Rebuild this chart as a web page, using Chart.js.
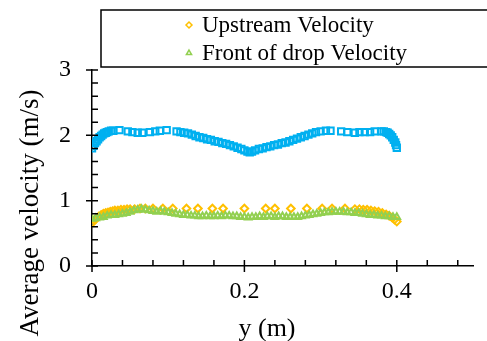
<!DOCTYPE html>
<html>
<head>
<meta charset="utf-8">
<script src="https://cdn.jsdelivr.net/npm/chart.js@4"></script>
<style>
  html, body { margin: 0; padding: 0; background: #fff; }
  #wrap { position: relative; width: 487px; height: 341px; }
</style>
</head>
<body>
<div id="wrap"><canvas id="velocityChart" width="487" height="341"></canvas></div>
<script>
// series (y in m, velocity in m/s)
const upperX = [0, 0.002, 0.004, 0.006, 0.008, 0.010, 0.012, 0.014, 0.016, 0.018, 0.020, 0.022, 0.025,
  0.028, 0.036, 0.047, 0.053, 0.060, 0.066, 0.076, 0.083, 0.089, 0.098,
  0.111, 0.116, 0.121, 0.126, 0.131, 0.136, 0.141, 0.146, 0.151, 0.156, 0.161, 0.166, 0.171, 0.176, 0.181, 0.186, 0.191, 0.196, 0.200, 0.204, 0.207,
  0.210, 0.214, 0.219, 0.224, 0.229, 0.234, 0.239, 0.244, 0.249, 0.254, 0.259, 0.264, 0.269, 0.274, 0.279, 0.284, 0.289, 0.294, 0.300, 0.307, 0.313,
  0.327, 0.335, 0.345, 0.351, 0.358, 0.365, 0.371, 0.380,
  0.383, 0.386, 0.388, 0.390, 0.392, 0.394, 0.396, 0.398, 0.399, 0.400];
const upperV = [1.80, 1.84, 1.88, 1.91, 1.94, 1.97, 1.99, 2.01, 2.03, 2.04, 2.05, 2.06, 2.07,
  2.07, 2.08, 2.06, 2.05, 2.04, 2.04, 2.05, 2.06, 2.07, 2.08,
  2.06, 2.05, 2.04, 2.03, 2.01, 1.99, 1.97, 1.96, 1.94, 1.93, 1.91, 1.90, 1.88, 1.87, 1.85, 1.83, 1.81, 1.79, 1.77, 1.75, 1.74,
  1.75, 1.77, 1.79, 1.80, 1.82, 1.83, 1.85, 1.86, 1.88, 1.89, 1.91, 1.93, 1.95, 1.97, 1.99, 2.01, 2.03, 2.05, 2.06, 2.07, 2.07,
  2.06, 2.05, 2.04, 2.05, 2.05, 2.05, 2.06, 2.06,
  2.06, 2.05, 2.04, 2.02, 2.00, 1.97, 1.93, 1.89, 1.85, 1.81];

const upstreamX = [0, 0.003, 0.006, 0.009, 0.012, 0.015, 0.018, 0.021, 0.024, 0.027, 0.030, 0.034, 0.038, 0.042, 0.046, 0.050, 0.056, 0.063, 0.070,
  0.080, 0.093, 0.106, 0.124, 0.139, 0.158, 0.172, 0.200, 0.228, 0.240, 0.261, 0.282, 0.302, 0.315, 0.332,
  0.345, 0.351, 0.356, 0.361, 0.366, 0.371, 0.376, 0.381, 0.386, 0.390, 0.394, 0.397, 0.400];
const upstreamV = [0.66, 0.70, 0.73, 0.76, 0.78, 0.80, 0.81, 0.82, 0.83, 0.84, 0.85, 0.85, 0.86, 0.86, 0.87, 0.87, 0.87, 0.88, 0.88,
  0.88, 0.88, 0.88, 0.88, 0.88, 0.88, 0.88, 0.88, 0.88, 0.88, 0.88, 0.88, 0.88, 0.88, 0.88,
  0.87, 0.87, 0.86, 0.86, 0.85, 0.84, 0.83, 0.81, 0.79, 0.77, 0.74, 0.71, 0.68];

const frontX = [0, 0.005, 0.010, 0.015, 0.020, 0.025, 0.030, 0.035, 0.040, 0.045, 0.050, 0.055, 0.060, 0.065, 0.070, 0.075, 0.080, 0.085, 0.090, 0.095,
  0.100, 0.105, 0.110, 0.115, 0.120, 0.125, 0.130, 0.135, 0.140, 0.145, 0.150, 0.155, 0.160, 0.165, 0.170, 0.175, 0.180, 0.185, 0.190, 0.195,
  0.200, 0.205, 0.210, 0.215, 0.220, 0.225, 0.230, 0.235, 0.240, 0.245, 0.250, 0.255, 0.260, 0.265, 0.270, 0.275, 0.280, 0.285, 0.290, 0.295,
  0.300, 0.305, 0.310, 0.315, 0.320, 0.325, 0.330, 0.335, 0.340, 0.345, 0.350, 0.355, 0.360, 0.365, 0.370, 0.375, 0.380, 0.385, 0.390, 0.395, 0.400];
const frontV = [0.72, 0.73, 0.74, 0.75, 0.77, 0.78, 0.78, 0.79, 0.80, 0.81, 0.83, 0.85, 0.86, 0.87, 0.86, 0.85, 0.84, 0.83, 0.84, 0.83,
  0.82, 0.81, 0.80, 0.79, 0.78, 0.78, 0.77, 0.77, 0.76, 0.76, 0.77, 0.76, 0.76, 0.77, 0.76, 0.77, 0.77, 0.76, 0.76, 0.75,
  0.75, 0.74, 0.75, 0.75, 0.76, 0.75, 0.76, 0.76, 0.75, 0.76, 0.76, 0.75, 0.75, 0.75, 0.75, 0.76, 0.77, 0.78, 0.79, 0.80,
  0.81, 0.82, 0.82, 0.83, 0.83, 0.83, 0.83, 0.82, 0.82, 0.81, 0.81, 0.80, 0.79, 0.78, 0.78, 0.77, 0.77, 0.76, 0.76, 0.75, 0.75];

const xLabels = [0, 0.2, 0.4];
const yLabels = [0, 1, 2, 3];

const BLUE = "#00B0F0", ORANGE = "#FFC000", GREEN = "#92D050";
const FONT = "Liberation Serif";

function toPoints(xs, vs) {
    return xs.map(function (x, i) { return { x: x, y: vs[i] }; });
}

// excel style ticks: major ones cross the axis, minor ones point inwards
const axisTicks = {
    id: "axisTicks",
    afterDatasetsDraw(chart) {
        const ctx = chart.ctx, xs = chart.scales.x, ys = chart.scales.y;
        const a = chart.chartArea, len = 6;
        ctx.save();
        ctx.strokeStyle = "#000";
        ctx.lineWidth = 1.5;
        ctx.beginPath();
        for (let i = 0; i <= 12; i++) {
            const v = i * 0.04;
            if (v > 0.5) break;
            const px = xs.getPixelForValue(v);
            const major = xLabels.some(function (m) { return Math.abs(m - v) < 1e-6; });
            ctx.moveTo(px, a.bottom + (major ? len : 0));
            ctx.lineTo(px, a.bottom - len);
        }
        for (let i = 0; i <= 15; i++) {
            const v = i * 0.2;
            const py = ys.getPixelForValue(v);
            const major = yLabels.some(function (m) { return Math.abs(m - v) < 1e-6; });
            ctx.moveTo(a.left - (major ? len : 0), py);
            ctx.lineTo(a.left + len, py);
        }
        ctx.stroke();
        ctx.restore();
    }
};

// boxed legend in the top right (blue series has no entry) and the axis titles
const boxLegend = {
    id: "boxLegend",
    afterDraw(chart) {
        const ctx = chart.ctx;
        ctx.save();
        ctx.strokeStyle = "#000";
        ctx.lineWidth = 1.5;
        ctx.strokeRect(101, 10, 400, 57);
        const items = [
            { text: "Upstream Velocity", style: "rectRot", color: ORANGE, y: 25 },
            { text: "Front of drop Velocity", style: "triangle", color: GREEN, y: 53 }
        ];
        ctx.font = "23px '" + FONT + "'";
        ctx.textBaseline = "middle";
        items.forEach(function (it) {
            ctx.strokeStyle = it.color;
            ctx.fillStyle = "rgba(0,0,0,0)";
            ctx.lineWidth = 1.5;
            Chart.helpers.drawPoint(ctx, { pointStyle: it.style, radius: 3, borderWidth: 1.5 }, 189, it.y);
            ctx.fillStyle = "#000";
            ctx.fillText(it.text, 202, it.y + 1);
        });

        ctx.fillStyle = "#000";
        ctx.font = "26px '" + FONT + "'";
        ctx.textAlign = "center";
        ctx.textBaseline = "middle";
        ctx.fillText("y (m)", 267, 329);
        ctx.translate(31, 213);
        ctx.rotate(-Math.PI / 2);
        ctx.font = "27px '" + FONT + "'";
        ctx.fillText("Average velocity (m/s)", 0, 0);
        ctx.restore();
    }
};

const ctx = document.getElementById("velocityChart").getContext("2d");
new Chart(ctx, {
    type: "scatter",
    data: {
        datasets: [{
            label: "Velocity",
            data: toPoints(upperX, upperV),
            pointStyle: "rect",
            pointRadius: 4.5,
            borderWidth: 2,
            borderColor: BLUE,
            backgroundColor: "rgba(0,0,0,0)",
            order: 3
        }, {
            label: "Upstream Velocity",
            data: toPoints(upstreamX, upstreamV),
            pointStyle: "rectRot",
            pointRadius: 3.8,
            borderWidth: 2,
            borderColor: ORANGE,
            backgroundColor: "rgba(0,0,0,0)",
            order: 2
        }, {
            label: "Front of drop Velocity",
            data: toPoints(frontX, frontV),
            pointStyle: "triangle",
            pointRadius: 3.8,
            borderWidth: 2,
            borderColor: GREEN,
            backgroundColor: "rgba(0,0,0,0)",
            order: 1
        }]
    },
    options: {
        responsive: false,
        animation: false,
        layout: { padding: { top: 70, right: 14, left: 0, bottom: 0 } },
        plugins: { legend: { display: false }, tooltip: { enabled: false } },
        scales: {
            x: {
                type: "linear",
                min: 0,
                max: 0.5,
                afterFit: function (s) { s.height = 75; },
                grid: { display: false },
                border: { display: true, color: "#000", width: 1.5 },
                ticks: {
                    stepSize: 0.2,
                    includeBounds: false,
                    color: "#000",
                    padding: 3,
                    font: { family: FONT, size: 24 },
                    callback: function (v) { return xLabels.indexOf(Math.round(v * 10) / 10) >= 0 ? String(Math.round(v * 10) / 10) : ""; }
                }
            },
            y: {
                type: "linear",
                min: 0,
                max: 3,
                afterFit: function (s) { s.width = 92; },
                grid: { display: false },
                border: { display: true, color: "#000", width: 1.5 },
                ticks: {
                    stepSize: 1,
                    color: "#000",
                    padding: 13,
                    font: { family: FONT, size: 24 }
                }
            }
        }
    },
    plugins: [axisTicks, boxLegend]
});
</script>
</body>
</html>
